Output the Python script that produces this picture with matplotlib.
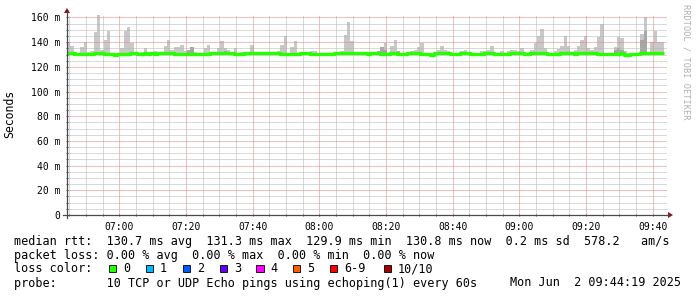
"""
SmokePing style latency graph (3 h, one bar per minute).
Saida: out.png
"""
from datetime import datetime, timedelta

import numpy as np
import matplotlib
matplotlib.use("Agg")
import matplotlib.pyplot as plt
import matplotlib.dates as mdates
from matplotlib.ticker import MultipleLocator, FuncFormatter
from matplotlib.patches import Rectangle, Polygon
from matplotlib.lines import Line2D

W, H = 697, 297
START = datetime(2025, 6, 2, 6, 44, 19)

# upper edge of the smoke (max ping) per minute, ms
smoke_hi = [
    140, 137, 132, 131.5, 136, 140, 132, 133, 148, 162,
    134, 142, 149, 131.5, 130.5, 131.5, 135, 149, 152, 139,
    131.5, 131.5, 132, 135, 131.5, 132, 133, 131.5, 132, 137,
    142, 134, 136, 136, 138, 133, 134, 136, 132, 131.5,
    131.5, 135, 138, 131.5, 131.5, 135, 141, 135, 134, 132,
    135, 131.5, 132, 131.5, 132, 138, 131.5, 131.5, 132, 131.5,
    131.5, 132, 131.5, 133, 138, 145, 131.5, 136, 141, 131.5,
    131.5, 131.5, 131.5, 132.5, 132.5, 131.5, 131.5, 131.5, 131.5, 131.5,
    131.5, 131.5, 133, 146, 156, 141, 131.5, 131.5, 131.5, 131.5,
    131.5, 131.5, 131.5, 132.5, 136, 139, 131.5, 137, 142, 132.5,
    131.5, 131.5, 131.5, 133, 134, 136, 139, 131.5, 131, 131,
    131.5, 134, 137, 134, 132.5, 131.5, 131.5, 131.5, 132.5, 134,
    131.5, 131.5, 131.5, 131.5, 133, 133, 134, 136.5, 131.5, 131.5,
    132.5, 131.5, 133, 134, 134, 132.5, 135, 131.5, 131.5, 134,
    139, 145, 151, 135, 131.5, 131.5, 133, 134.5, 137, 145,
    137, 131.5, 134, 137, 141.5, 145, 135, 134, 136, 144,
    154.5, 131.5, 131, 131.5, 136, 144, 143, 132.5, 131, 131,
    131, 131.5, 147, 160.5, 131.5, 140, 149, 140, 140,
]

# median rtt per minute, ms
median = [
    131.2, 131.2, 130.5, 130.5, 130.5, 130.5, 130.5, 130.5, 131.2, 131.2,
    131.2, 130.6, 130.6, 130.6, 129.9, 130.6, 130.6, 130.6, 130.6, 131.2,
    131.2, 130.5, 130.5, 131.2, 130.5, 131.2, 130.5, 131.2, 131.2, 131.2,
    131.2, 131.2, 130.6, 130.6, 130.6, 130.6, 130.6, 130.6, 130.6, 130.2,
    130.2, 130.2, 130.6, 131.2, 131.2, 131.2, 130.9, 130.9, 130.9, 130.9,
    130.5, 130.5, 130.5, 131.2, 131.2, 131.2, 131.2, 131.2, 131.2, 131.2,
    130.9, 130.9, 130.9, 130.9, 130.5, 130.5, 130.5, 130.5, 130.5, 130.5,
    131.2, 131.2, 131.2, 130.8, 130.8, 130.8, 130.5, 130.5, 130.5, 130.5,
    131.0, 131.0, 131.0, 131.0, 131.0, 131.0, 131.2, 131.2, 131.2, 131.2,
    130.6, 131.2, 131.2, 131.2, 130.4, 130.4, 130.4, 131.0, 131.0, 130.6,
    130.6, 130.6, 131.2, 131.2, 131.2, 131.2, 130.3, 130.3, 130.3, 129.9,
    131.2, 131.2, 131.2, 131.2, 131.2, 130.5, 130.5, 130.5, 131.2, 131.2,
    131.2, 130.6, 130.4, 130.4, 130.4, 131.2, 131.2, 131.2, 130.6, 130.6,
    130.6, 130.6, 130.6, 131.2, 131.2, 131.2, 131.2, 130.5, 130.5, 130.9,
    130.9, 130.9, 131.2, 131.2, 130.5, 130.5, 130.5, 130.5, 131.2, 131.2,
    131.2, 131.2, 130.6, 131.2, 131.2, 131.2, 131.2, 131.2, 131.2, 130.6,
    130.6, 130.6, 130.6, 130.6, 130.6, 130.4, 131.2, 130.0, 130.0, 130.4,
    130.4, 130.4, 131.0, 131.0, 131.0, 131.0, 131.0, 131.0, 131.0,
]

# lower edge of the smoke, and the few minutes where it dips further
SMOKE_FLOOR = 129.8
dip_idx = [14, 38, 39, 40, 108, 109, 168]
dip_val = [128.5, 128.8, 128.8, 129.0, 128.6, 128.6, 129.0]

# inner (darker) smoke band where the middle pings spread out
dark_idx = [36, 37, 47, 93, 94, 95, 99, 164, 165, 166, 172, 173]
dark_top = [134, 136, 133, 132.5, 136, 134, 132.5, 134, 135, 134, 142, 149]

loss_labels = ["0", "1", "2", "3", "4", "5", "6-9", "10/10"]
loss_colors = ["#26ff00", "#00b8ff", "#0059ff", "#5e00ff", "#ff00ff",
               "#ff5e00", "#ff0000", "#a10000"]

legend_rtt = "median rtt:  130.7 ms avg  131.3 ms max  129.9 ms min  130.8 ms now  0.2 ms sd  578.2   am/s"
legend_loss = "packet loss: 0.00 % avg  0.00 % max  0.00 % min  0.00 % now"
legend_probe = "probe:       10 TCP or UDP Echo pings using echoping(1) every 60s"
stamp = "Mon Jun  2 09:44:19 2025"

MONO = "DejaVu Sans Mono"
plt.rcParams["font.family"] = MONO


def fx(x):
    return x / W


def fy(y):
    return 1 - y / H


n = len(smoke_hi)
times = [START + timedelta(minutes=i) for i in range(n)]
lo = np.full(n, SMOKE_FLOOR)
lo[dip_idx] = dip_val
hi = np.array(smoke_hi)

fig = plt.figure(figsize=(W / 100, H / 100), dpi=100)
ax = fig.add_axes([fx(67), fy(215), 600 / W, 200 / H])

one_min = 1 / 1440
ax.bar(times, hi - lo, bottom=lo, width=one_min, align="edge",
       color="#c8c8c8", linewidth=0, zorder=1)
dark_t = [times[i] for i in dark_idx]
dark_lo = [lo[i] for i in dark_idx]
ax.bar(dark_t, np.array(dark_top) - np.array(dark_lo), bottom=dark_lo,
       width=one_min, align="edge", color="#a6a6a6", linewidth=0, zorder=1.2)

t_step = times + [times[-1] + timedelta(minutes=1)]
ax.step(t_step, median + [median[-1]], where="post", color="#26ff00",
        lw=2.4, zorder=4, solid_capstyle="butt")

ax.set_xlim(START, START + timedelta(hours=3))
ax.set_ylim(0, 162)

ax.yaxis.set_major_locator(MultipleLocator(20))
ax.yaxis.set_minor_locator(MultipleLocator(5))
ax.yaxis.set_major_formatter(FuncFormatter(lambda v, p: "0" if v == 0 else f"{v:.0f} m"))
ax.xaxis.set_major_locator(mdates.MinuteLocator(byminute=[0, 20, 40]))
ax.xaxis.set_minor_locator(mdates.MinuteLocator(byminute=range(0, 60, 5)))
ax.xaxis.set_major_formatter(mdates.DateFormatter("%H:%M"))

# dotted grid: 1 px on, 1 px off
dots = (0, (1, 1))
ax.set_axisbelow(False)
ax.grid(which="minor", color="#b4b4b4", lw=0.72, linestyle=dots, zorder=2)
ax.grid(which="major", color="#e68080", lw=0.72, linestyle=dots, zorder=2)

for s in ax.spines.values():
    s.set_visible(False)
ax.tick_params(which="both", length=2, width=0.72, color="#555555",
               direction="inout", labelsize=7, labelcolor="#000000")
ax.tick_params(axis="y", pad=4)
ax.tick_params(axis="x", pad=4)

# axes lines with arrow heads, rrdtool style
axis_col = "#4a4a4a"
arrow_col = "#8b1010"
fig.add_artist(Line2D([fx(63), fx(669)], [fy(215), fy(215)], color=axis_col, lw=0.9))
fig.add_artist(Line2D([fx(67), fx(67)], [fy(218), fy(12)], color=axis_col, lw=0.9))
fig.add_artist(Polygon([(fx(668), fy(212)), (fx(673), fy(215)), (fx(668), fy(218))],
                       closed=True, color=arrow_col, lw=0))
fig.add_artist(Polygon([(fx(64), fy(13)), (fx(67), fy(8)), (fx(70), fy(13))],
                       closed=True, color=arrow_col, lw=0))

fig.text(fx(10), fy(114), "Seconds", rotation=90, ha="center", va="center", fontsize=8.3)
fig.text(fx(686), fy(4), "RRDTOOL / TOBI OETIKER", rotation=270, ha="center",
         va="top", fontsize=6.2, color="#b0b0b0")

fs = 8.5
fig.text(fx(14.5), fy(241), legend_rtt, ha="left", va="center", fontsize=fs)
fig.text(fx(14.5), fy(255), legend_loss, ha="left", va="center", fontsize=fs)
fig.text(fx(14.5), fy(269), "loss color:", ha="left", va="center", fontsize=fs)
fig.text(fx(14.5), fy(283), legend_probe, ha="left", va="center", fontsize=fs)
fig.text(fx(681), fy(283), stamp, ha="right", va="center", fontsize=fs)

box_x = [108.5, 145.5, 182.5, 219.5, 256, 292.5, 329.5, 383.5]
for bx, lab, col in zip(box_x, loss_labels, loss_colors):
    fig.add_artist(Rectangle((fx(bx), fy(272)), 7.5 / W, 7.5 / H, facecolor=col,
                             edgecolor="#000000", lw=0.6))
    fig.text(fx(bx + 14.5), fy(269), lab, ha="left", va="center", fontsize=fs)

fig.savefig("out.png", dpi=100)
